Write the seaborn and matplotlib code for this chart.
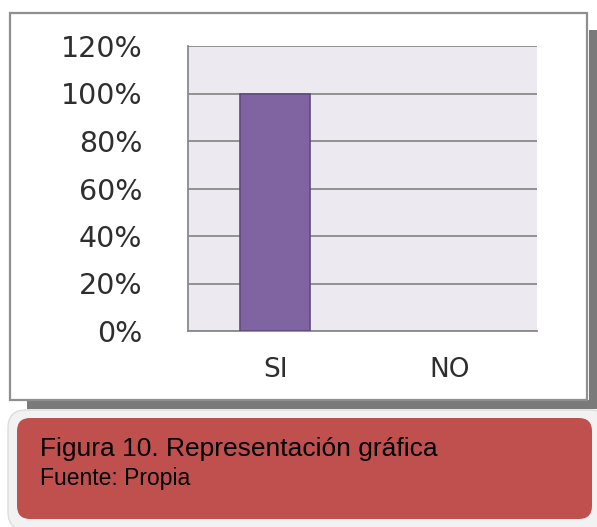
import matplotlib
matplotlib.use("Agg")
import matplotlib.pyplot as plt
import seaborn as sns
import pandas as pd
from matplotlib.patches import Rectangle, FancyBboxPatch
from matplotlib.ticker import FuncFormatter

categories = ["SI", "NO"]
values = [1.0, 0.0]
y_ticks = [0, 0.2, 0.4, 0.6, 0.8, 1.0, 1.2]
caption_title = "Figura 10. Representación gráfica"
caption_source = "Fuente: Propia"

W, H = 597, 527
sns.set_theme(style="white")
plt.rcParams['font.family'] = ['DejaVu Sans']

fig = plt.figure(figsize=(W / 100, H / 100), dpi=100)
fig.patch.set_facecolor("white")


def fx(px):
    return px / W


def fy(py):
    return 1 - py / H


# outer chart frame with shadow
fig.patches.append(Rectangle((fx(589), fy(408)), fx(8), (408 - 30) / H,
                             transform=fig.transFigure, facecolor="#7a7a7a",
                             edgecolor="none", zorder=0))
fig.patches.append(Rectangle((fx(27), fy(409)), fx(570), 9 / H,
                             transform=fig.transFigure, facecolor="#7a7a7a",
                             edgecolor="none", zorder=0))
fig.patches.append(Rectangle((fx(10), fy(400)), fx(577), (400 - 13) / H,
                             transform=fig.transFigure, facecolor="white",
                             edgecolor="#8f8f8f", linewidth=1.6, zorder=1))

# caption box
fig.patches.append(FancyBboxPatch((fx(8), fy(530)), fx(600), (530 - 410) / H,
                                  boxstyle="round,pad=0,rounding_size=0.03",
                                  transform=fig.transFigure, facecolor="#f2f2f2",
                                  edgecolor="#dcdcdc", linewidth=1, zorder=1,
                                  mutation_aspect=W / H))
fig.patches.append(FancyBboxPatch((fx(17), fy(519)), fx(575), (519 - 418) / H,
                                  boxstyle="round,pad=0,rounding_size=0.022",
                                  transform=fig.transFigure, facecolor="#C0504D",
                                  edgecolor="none", zorder=2,
                                  mutation_aspect=W / H))
fig.text(fx(40), fy(456), caption_title, fontsize=19, color="black",
         family=["Liberation Sans", "DejaVu Sans"], va="baseline", ha="left", zorder=3)
fig.text(fx(40), fy(485), caption_source, fontsize=16.5, color="black",
         family=["Liberation Sans", "DejaVu Sans"], va="baseline", ha="left", zorder=3)

# plot area
ax = fig.add_axes([fx(188), fy(331), fx(537 - 188), (331 - 46) / H], zorder=5)
ax.set_facecolor("#ECEAF0")
df = pd.DataFrame({"cat": categories, "val": values})
sns.barplot(data=df, x="cat", y="val", color="#8064A2", width=0.4,
            edgecolor="#5E4B7B", linewidth=1.2, saturation=1, ax=ax, zorder=3)
for p in ax.patches:
    if p.get_height() == 0:
        p.set_edgecolor("none")
ax.set_ylim(0, 1.2)
ax.set_yticks(y_ticks)
ax.yaxis.set_major_formatter(FuncFormatter(lambda v, p: f"{v * 100:.0f}%"))
ax.grid(axis="y", color="#8a8a8a", linewidth=1.3, zorder=0)
ax.set_axisbelow(True)
ax.set_xlabel("")
ax.set_ylabel("")
for s in ["top", "right"]:
    ax.spines[s].set_visible(False)
for s in ["left", "bottom"]:
    ax.spines[s].set_color("#8a8a8a")
    ax.spines[s].set_linewidth(1.3)
ax.tick_params(axis="y", length=0, pad=33, labelsize=20.5, labelcolor="#2e2e2e")
ax.tick_params(axis="x", length=0, pad=19, labelsize=19, labelcolor="#2e2e2e")

fig.savefig("out.png", dpi=100)
